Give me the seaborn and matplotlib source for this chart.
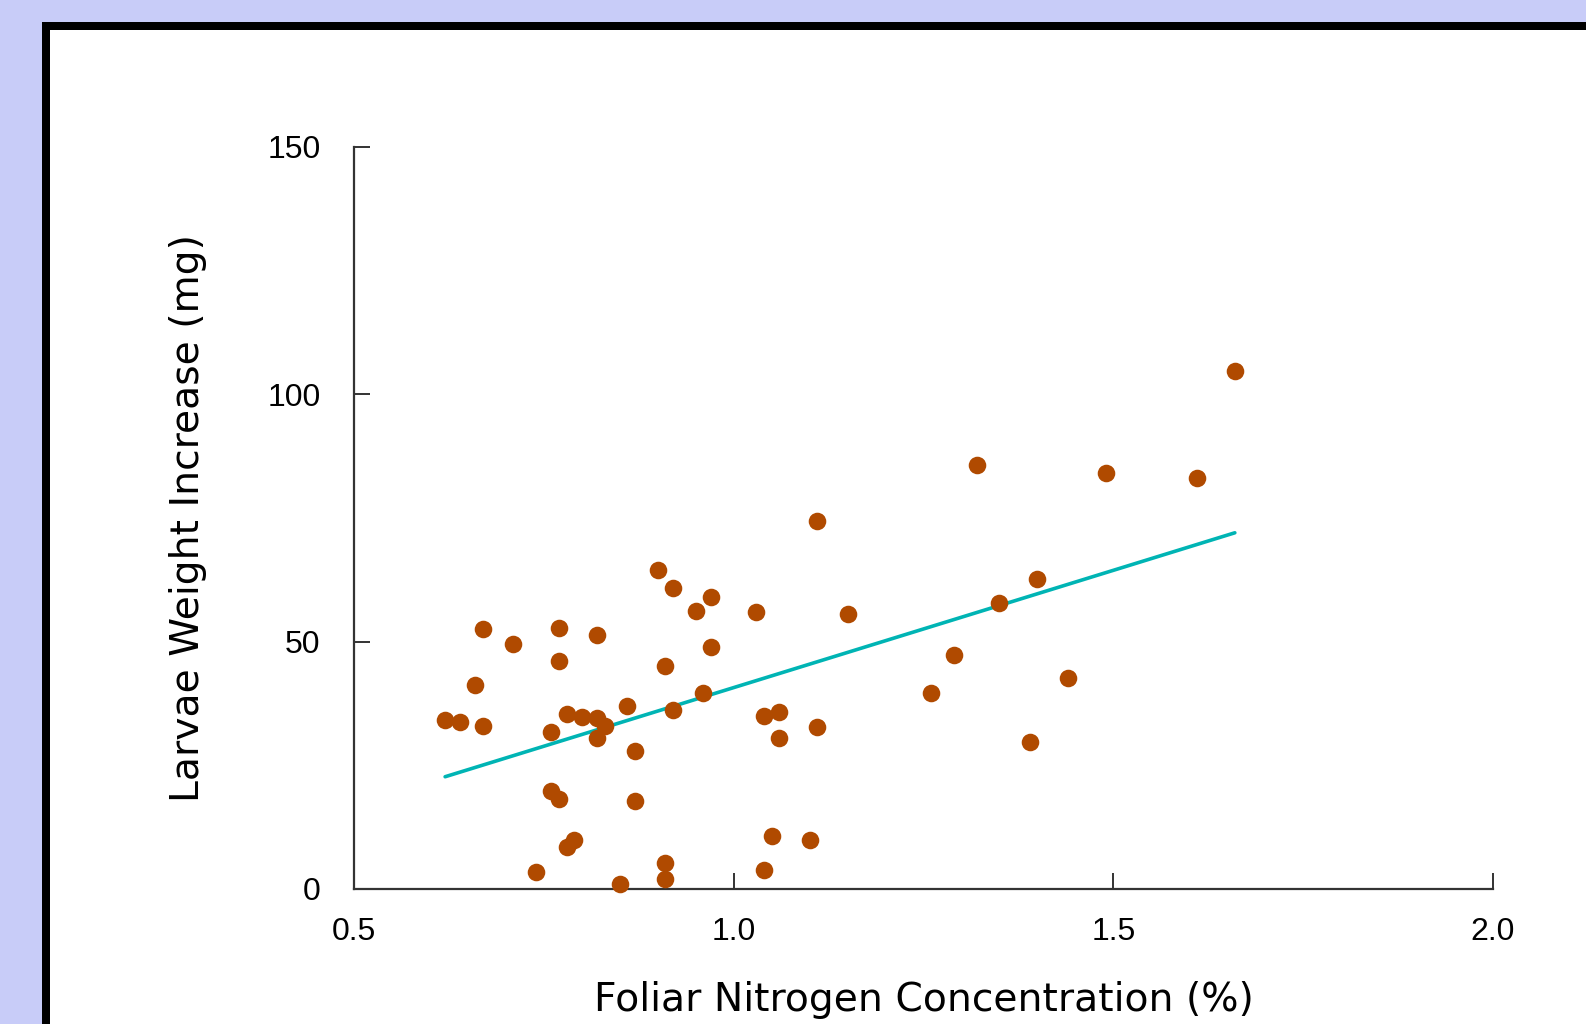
import numpy as np
import pandas as pd
import seaborn as sns
import matplotlib.pyplot as plt
from matplotlib.patches import Rectangle


# foliar nitrogen (%) and larvae weight increase (mg)
nitrogen = [0.62, 0.64, 0.66, 0.67, 0.67, 0.71, 0.76, 0.77, 0.77, 0.78,
            0.80, 0.82, 0.82, 0.83, 0.82, 0.86, 0.87, 0.76, 0.77, 0.79,
            0.78, 0.74, 0.85, 0.87, 0.90, 0.92, 0.91, 0.92, 0.95, 0.97,
            0.97, 0.96, 0.91, 0.91, 1.03, 1.04, 1.06, 1.06, 1.05, 1.04,
            1.10, 1.11, 1.11, 1.15, 1.26, 1.29, 1.32, 1.35, 1.39, 1.40,
            1.44, 1.49, 1.61, 1.66]
weight = [34.1, 33.7, 41.3, 52.5, 32.9, 49.5, 31.7, 52.7, 46.0, 35.4,
          34.7, 51.3, 34.5, 32.9, 30.5, 37.0, 27.8, 19.8, 18.2, 10.0,
          8.4, 3.5, 1.0, 17.8, 64.4, 60.9, 45.0, 36.2, 56.2, 59.1,
          49.0, 39.6, 5.3, 2.0, 56.0, 34.9, 35.8, 30.5, 10.8, 3.9,
          10.0, 74.4, 32.7, 55.6, 39.6, 47.2, 85.6, 57.8, 29.8, 62.7,
          42.7, 84.0, 83.0, 104.6]

x_ticks = [0.5, 1.0, 1.5, 2.0]
x_tick_labels = ['0.5', '1.0', '1.5', '2.0']
y_ticks = [0, 50, 100, 150]
y_tick_labels = ['0', '50', '100', '150']

BG_COLOR = '#C8CCF8'
DOT_COLOR = '#B04A00'
FIT_COLOR = '#00B4B4'
AXIS_COLOR = '#333333'

W, H = 1586, 1024


def main():
    sns.set_style('white')
    plt.rcParams['font.family'] = ['Liberation Sans', 'DejaVu Sans']
    plt.rcParams['text.color'] = 'black'
    plt.rcParams['axes.labelcolor'] = 'black'

    df = pd.DataFrame({'nitrogen': nitrogen, 'weight': weight})

    fig = plt.figure(figsize=(W / 100, H / 100), dpi=100, facecolor=BG_COLOR)
    # black slide frame that runs off the right and bottom edges
    fig.patches.append(Rectangle(
        (42 / W, -0.1), 2, 1.1 - 22 / H, transform=fig.transFigure,
        facecolor='black', edgecolor='none', zorder=-2))
    fig.patches.append(Rectangle(
        (50 / W, -0.1), 2, 1.1 - 30 / H, transform=fig.transFigure,
        facecolor='white', edgecolor='none', zorder=-1))

    ax = fig.add_axes([354 / W, 1 - 889 / H, (1493 - 354) / W,
                       (889 - 146.7) / H])
    ax.set_facecolor('none')

    sns.regplot(data=df, x='nitrogen', y='weight', ax=ax, scatter=False,
                ci=None, truncate=True,
                line_kws={'color': FIT_COLOR, 'linewidth': 2.6})
    sns.scatterplot(data=df, x='nitrogen', y='weight', ax=ax,
                    color=DOT_COLOR, s=160, linewidth=0, clip_on=False,
                    zorder=3)

    ax.set_xlim(0.5, 2.0)
    ax.set_ylim(0, 150)
    ax.set_xticks(x_ticks)
    ax.set_xticklabels(x_tick_labels)
    ax.set_yticks(y_ticks)
    ax.set_yticklabels(y_tick_labels)
    ax.tick_params(bottom=True, left=True, direction='in', length=11.5,
                   width=1.4, color=AXIS_COLOR, labelsize=23,
                   labelcolor='black')
    ax.tick_params(axis='x', pad=20)
    ax.tick_params(axis='y', pad=24)

    sns.despine(ax=ax)
    for side in ('left', 'bottom'):
        ax.spines[side].set_color(AXIS_COLOR)
        ax.spines[side].set_linewidth(1.6)

    ax.set_xlabel('Foliar Nitrogen Concentration (%)', fontsize=28.3,
                  family='DejaVu Sans')
    ax.set_ylabel('Larvae Weight Increase (mg)', fontsize=28.3,
                  family='DejaVu Sans')
    ax.xaxis.set_label_coords(0.5, -0.124)
    ax.yaxis.set_label_coords(-0.129, 0.5)

    fig.savefig('out.png', dpi=100, facecolor=BG_COLOR)
    plt.close(fig)


if __name__ == '__main__':
    main()
